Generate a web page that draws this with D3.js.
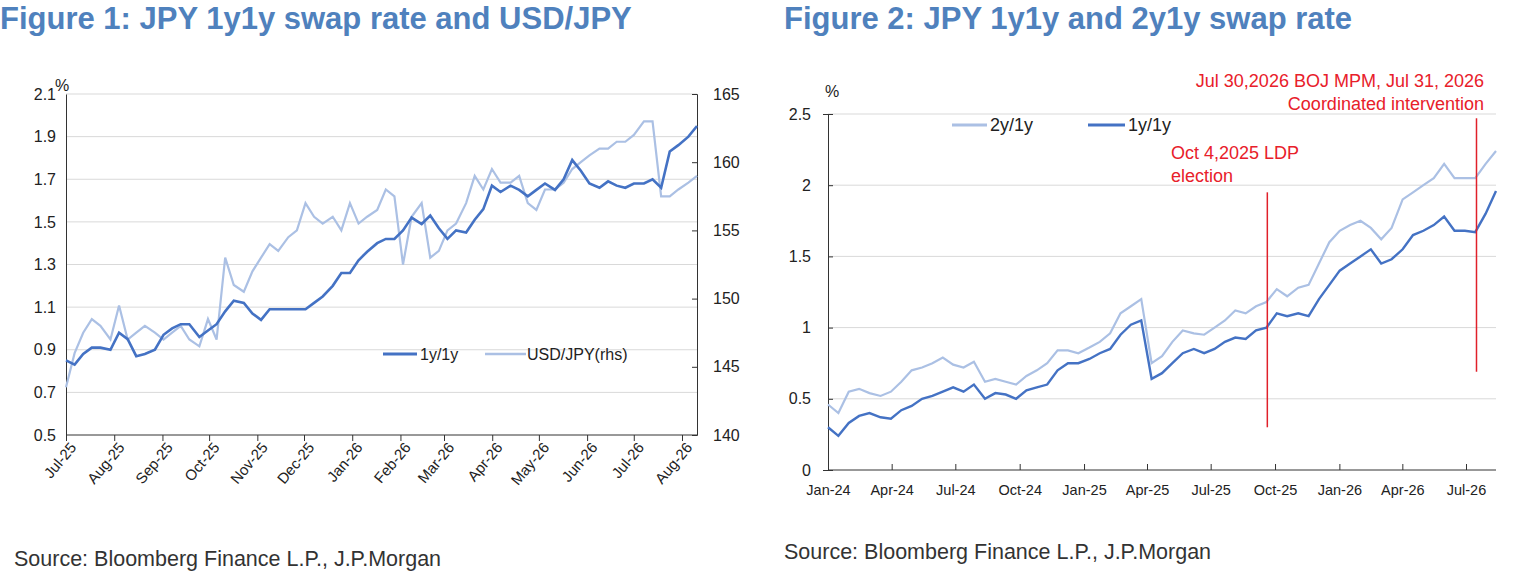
<!DOCTYPE html>
<html><head><meta charset="utf-8">
<script src="https://cdn.jsdelivr.net/npm/d3@7"></script>
<style>body{margin:0;background:#fff;font-family:"Liberation Sans",Arial,sans-serif}</style>
</head><body><svg id="c" width="1514" height="581"></svg>
<script>
// ---------- Figure 1 data (weekly from 2025-07-01) ----------
const f1Start = "2025-07-01";
const f1Rate = [0.85,0.83,0.88,0.91,0.91, 0.90,0.98,0.95,0.87,0.88, 0.90,0.97,1.00,1.02,1.02,
  0.96,0.99,1.02,1.08,1.13, 1.12,1.07,1.04,1.09,1.09, 1.09,1.09,1.09,1.12,1.15, 1.20,1.26,1.26,1.32,1.36,
  1.40,1.42,1.42,1.46,1.52, 1.49,1.53,1.47,1.42,1.46, 1.45,1.51,1.56,1.67,1.64, 1.67,1.65,1.62,1.65,1.68,
  1.65,1.70,1.79,1.74,1.68, 1.66,1.69,1.67,1.66,1.68, 1.68,1.70,1.66,1.83,1.86, 1.90,1.95];
const f1Fx = [143.5,146,147.5,148.5,148, 147,149.5,147,147.5,148, 147.5,147,147.5,148,147,
  146.5,148.5,147,153,151, 150.5,152,153,154,153.5, 154.5,155,157,156,155.5, 156,155,157,155.5,156,
  156.5,158,157.5,152.5,156, 157,153,153.5,155,155.5, 157,159,158,159.5,158.5, 158.5,159,157,156.5,158,
  158,158.5,159.5,160,160.5, 161,161,161.5,161.5,162, 163,163,157.5,157.5,158, 158.5,159];
const f1Left = [0.5,0.7,0.9,1.1,1.3,1.5,1.7,1.9,2.1];
const f1Right = [140,145,150,155,160,165];
const f1Months = ["2025-07","2025-08","2025-09","2025-10","2025-11","2025-12","2026-01","2026-02","2026-03","2026-04","2026-05","2026-06","2026-07","2026-08"];
// ---------- Figure 2 data (semi-monthly from 2024-01-01) ----------
const f2Start = "2024-01-01";
const f2One = [0.30,0.24,0.33,0.38,0.40,0.37,0.36,0.42,0.45,0.50,0.52,0.55,0.58,0.55,0.60,0.50,0.54,0.53,
  0.50,0.56,0.58,0.60,0.70,0.75,0.75,0.78,0.82,0.85,0.95,1.02,1.05,0.64,0.68,0.75,0.82,0.85,
  0.82,0.85,0.90,0.93,0.92,0.98,1.00,1.10,1.08,1.10,1.08,1.20,1.30,1.40,1.45,1.50,1.55,1.45,
  1.48,1.55,1.65,1.68,1.72,1.78,1.68,1.68,1.67,1.80,1.96];
const f2Two = [0.46,0.40,0.55,0.57,0.54,0.52,0.55,0.62,0.70,0.72,0.75,0.79,0.74,0.72,0.76,0.62,0.64,0.62,
  0.60,0.66,0.70,0.75,0.84,0.84,0.82,0.86,0.90,0.96,1.10,1.15,1.20,0.75,0.80,0.90,0.98,0.96,
  0.95,1.00,1.05,1.12,1.10,1.15,1.18,1.27,1.22,1.28,1.30,1.45,1.60,1.68,1.72,1.75,1.70,1.62,
  1.70,1.90,1.95,2.00,2.05,2.15,2.05,2.05,2.05,2.15,2.24];
const f2Ticks = [0,0.5,1,1.5,2,2.5];
const f2Months = ["2024-01","2024-04","2024-07","2024-10","2025-01","2025-04","2025-07","2025-10","2026-01","2026-04","2026-07"];
const f2Events = [{date:"2025-09-20",y0:1.95,y1:0.3},{date:"2026-07-16",y0:2.47,y1:0.69}];

const dark="#4472c4", light="#abc0e4", grid="#d9d9d9", axisC="#333";
const svg=d3.select("#c");
const parse=d3.timeParse("%Y-%m-%d"), pm=d3.timeParse("%Y-%m");
const fmtM=d3.timeFormat("%b-%y");
const narrow="'Liberation Sans Narrow','Liberation Sans',Arial";

svg.append("text").attr("x",0).attr("y",29).attr("font-size",31).attr("font-weight","bold").attr("fill","#4f81bd").text("Figure 1: JPY 1y1y swap rate and USD/JPY");
svg.append("text").attr("x",784).attr("y",29).attr("font-size",31).attr("font-weight","bold").attr("fill","#4f81bd").text("Figure 2: JPY 1y1y and 2y1y swap rate");
svg.append("text").attr("x",14).attr("y",566).attr("font-size",21.5).attr("fill","#333").text("Source: Bloomberg Finance L.P., J.P.Morgan");
svg.append("text").attr("x",784).attr("y",559).attr("font-size",21.5).attr("fill","#333").text("Source: Bloomberg Finance L.P., J.P.Morgan");

function styleAxis(g,fs){g.selectAll("path,line").attr("stroke",axisC);g.selectAll("text").attr("fill","#222").attr("font-size",fs||16).attr("font-family",narrow);}

// ---------- Figure 1 ----------
{
 const s=parse(f1Start);
 const dates=f1Rate.map((_,i)=>d3.timeDay.offset(s,i*6.2));
 const x=d3.scaleTime().domain([pm("2025-07"),pm("2026-08")]).range([66,682]);
 const y=d3.scaleLinear().domain([0.5,2.1]).range([435,94]);
 const yr=d3.scaleLinear().domain([140,165]).range([435,94]);
 const xEnd=697;
 svg.append("g").selectAll("line").data(f1Left.slice(1)).join("line").attr("x1",66).attr("x2",xEnd).attr("y1",y).attr("y2",y).attr("stroke",grid);
 const gl=svg.append("g").attr("transform","translate(66,0)").call(d3.axisLeft(y).tickValues(f1Left).tickFormat(d3.format(".1f")).tickSize(0).tickPadding(10));
 styleAxis(gl);
 const gr=svg.append("g").attr("transform",`translate(${xEnd},0)`).call(d3.axisRight(yr).tickValues(f1Right).tickSize(-5).tickPadding(16));
 styleAxis(gr);
 const gx=svg.append("g").attr("transform","translate(0,435)").call(d3.axisBottom(x).tickValues(f1Months.map(pm)).tickFormat(fmtM).tickSize(6).tickSizeOuter(0));
 styleAxis(gx,15); gx.select(".domain").attr("d",`M66,0H${xEnd}`);
 gx.selectAll("text").attr("text-anchor","end").attr("dx","-0.2em").attr("dy","0.5em").attr("transform","rotate(-50)");
 svg.append("text").attr("x",55).attr("y",91).attr("font-size",16).attr("fill","#222").attr("font-family",narrow).text("%");
 const x2=d3.scaleTime().domain([dates[0],dates[dates.length-1]]).range([66,697]);
 svg.append("path").datum(f1Fx).attr("fill","none").attr("stroke",light).attr("stroke-width",2.2)
   .attr("d",d3.line().x((d,i)=>x2(dates[i])).y(d=>yr(d)));
 svg.append("path").datum(f1Rate).attr("fill","none").attr("stroke",dark).attr("stroke-width",2.6)
   .attr("d",d3.line().x((d,i)=>x2(dates[i])).y(d=>y(d)));
 svg.append("line").attr("x1",383).attr("x2",417).attr("y1",354).attr("y2",354).attr("stroke",dark).attr("stroke-width",3);
 svg.append("text").attr("x",420).attr("y",360).attr("font-size",16).attr("fill","#222").attr("font-family",narrow).text("1y/1y");
 svg.append("line").attr("x1",485).attr("x2",526).attr("y1",354).attr("y2",354).attr("stroke",light).attr("stroke-width",2.5);
 svg.append("text").attr("x",527).attr("y",360).attr("font-size",16).attr("fill","#222").attr("font-family",narrow).text("USD/JPY(rhs)");
}
// ---------- Figure 2 ----------
{
 const s=parse(f2Start);
 const dates=f2One.map((_,i)=>d3.timeDay.offset(s,Math.round(i*15.1)));
 const x=d3.scaleTime().domain([pm("2024-01"),pm("2026-07")]).range([828,1466]);
 const y=d3.scaleLinear().domain([0,2.5]).range([470,114]);
 const xEnd=1496;
 svg.append("g").selectAll("line").data(f2Ticks.slice(1)).join("line").attr("x1",828).attr("x2",xEnd).attr("y1",y).attr("y2",y).attr("stroke",grid);
 const gl=svg.append("g").attr("transform","translate(828,0)").call(d3.axisLeft(y).tickValues(f2Ticks).tickFormat(d=>d).tickSize(5).tickPadding(12));
 styleAxis(gl); gl.selectAll(".tick line").attr("x2",5);
 const gx=svg.append("g").attr("transform","translate(0,470)").call(d3.axisBottom(x).tickValues(f2Months.map(pm)).tickFormat(fmtM).tickSize(6).tickSizeOuter(0));
 styleAxis(gx,14.5); gx.select(".domain").attr("d",`M828,0H${xEnd}`); gx.selectAll("line").attr("y1",-6).attr("y2",0);
 gx.selectAll("text").attr("dy","1.1em");
 svg.append("text").attr("x",825).attr("y",97).attr("font-size",16).attr("fill","#222").attr("font-family",narrow).text("%");
 const x2=d3.scaleTime().domain([dates[0],dates[dates.length-1]]).range([828,1496]);
 svg.append("path").datum(f2Two).attr("fill","none").attr("stroke",light).attr("stroke-width",2.2)
   .attr("d",d3.line().x((d,i)=>x2(dates[i])).y(d=>y(d)));
 svg.append("path").datum(f2One).attr("fill","none").attr("stroke",dark).attr("stroke-width",2.4)
   .attr("d",d3.line().x((d,i)=>x2(dates[i])).y(d=>y(d)));
 f2Events.forEach(e=>svg.append("line").attr("x1",x(parse(e.date))).attr("x2",x(parse(e.date))).attr("y1",y(e.y0)).attr("y2",y(e.y1)).attr("stroke","#e0202a").attr("stroke-width",1.5));
 const red="#e8202a";
 svg.append("text").attr("x",1484).attr("y",87).attr("text-anchor","end").attr("font-size",18).attr("fill",red).attr("font-family",narrow).text("Jul 30,2026 BOJ MPM, Jul 31, 2026");
 svg.append("text").attr("x",1484).attr("y",110).attr("text-anchor","end").attr("font-size",18).attr("fill",red).attr("font-family",narrow).text("Coordinated intervention");
 svg.append("text").attr("x",1171).attr("y",159).attr("font-size",18).attr("fill",red).attr("font-family",narrow).text("Oct 4,2025 LDP");
 svg.append("text").attr("x",1171).attr("y",182).attr("font-size",18).attr("fill",red).attr("font-family",narrow).text("election");
 svg.append("line").attr("x1",952).attr("x2",987).attr("y1",125).attr("y2",125).attr("stroke",light).attr("stroke-width",3);
 svg.append("text").attr("x",990).attr("y",131).attr("font-size",18).attr("fill","#222").attr("font-family",narrow).text("2y/1y");
 svg.append("line").attr("x1",1088).attr("x2",1125).attr("y1",125).attr("y2",125).attr("stroke",dark).attr("stroke-width",3);
 svg.append("text").attr("x",1128).attr("y",131).attr("font-size",18).attr("fill","#222").attr("font-family",narrow).text("1y/1y");
}
</script></body></html>
